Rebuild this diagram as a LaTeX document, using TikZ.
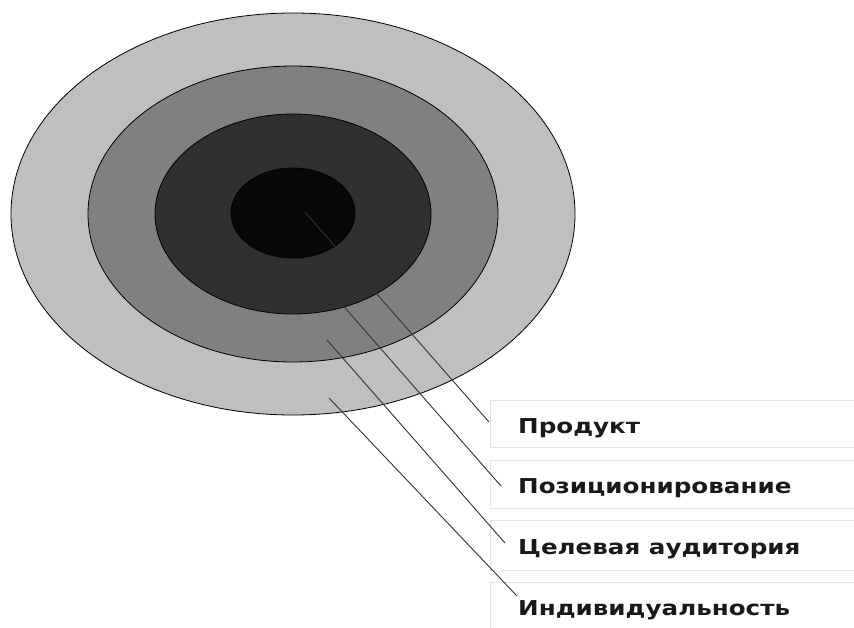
\documentclass[tikz,border=0pt]{standalone}
\usepackage{fontspec}
\setmainfont{DejaVu Sans}
\newcommand{\lbl}[1]{\scalebox{1.2}[1]{#1}}
\begin{document}
\begin{tikzpicture}[x=1pt,y=-1pt,
  ring/.style={draw=black,line width=0.8pt},
  leader/.style={draw=black!80,line width=0.9pt},
  lbox/.style={draw=black!10,fill=white,line width=0.8pt},
  ltext/.style={anchor=base west,inner sep=0pt,text=black!90,font=\bfseries\fontsize{20.5}{24}\selectfont}]
\useasboundingbox (0,0) rectangle (854,627);
% rings
\fill[white] (0,0) rectangle (854,627);
\draw[ring,fill=black!25] (293,214) ellipse [x radius=282,y radius=201];
\draw[ring,fill=black!50] (293,214) ellipse [x radius=205,y radius=148];
\draw[ring,fill=black!81] (293,214) ellipse [x radius=138,y radius=100];
\draw[ring,fill=black!97] (293,213) ellipse [x radius=62,y radius=45];
% label boxes
\draw[lbox] (490,400) rectangle (858,447);
\draw[lbox] (490,460) rectangle (858,508);
\draw[lbox] (490,520) rectangle (858,570);
\draw[lbox] (490,582) rectangle (858,632);
\node[ltext] (t1) at (518,433) {\lbl{Продукт}};
\node[ltext] (t2) at (518,493) {\lbl{Позиционирование}};
\node[ltext] (t3) at (518,554) {\lbl{Целевая аудитория}};
\node[ltext] (t4) at (518,615) {\lbl{Индивидуальность}};
% leader lines
\coordinate (s1) at (305,212);
\coordinate (e1) at (489,422);
\coordinate (s2) at (318,277);
\coordinate (e2) at (501,486);
\coordinate (s3) at (327,340);
\coordinate (e3) at (505,543);
\coordinate (s4) at (329,398);
\coordinate (e4) at (517,596);
\draw[leader] (s1) -- (e1);
\draw[leader] (s2) -- (e2);
\draw[leader] (s3) -- (e3);
\draw[leader] (s4) -- (e4);
\end{tikzpicture}
\end{document}
